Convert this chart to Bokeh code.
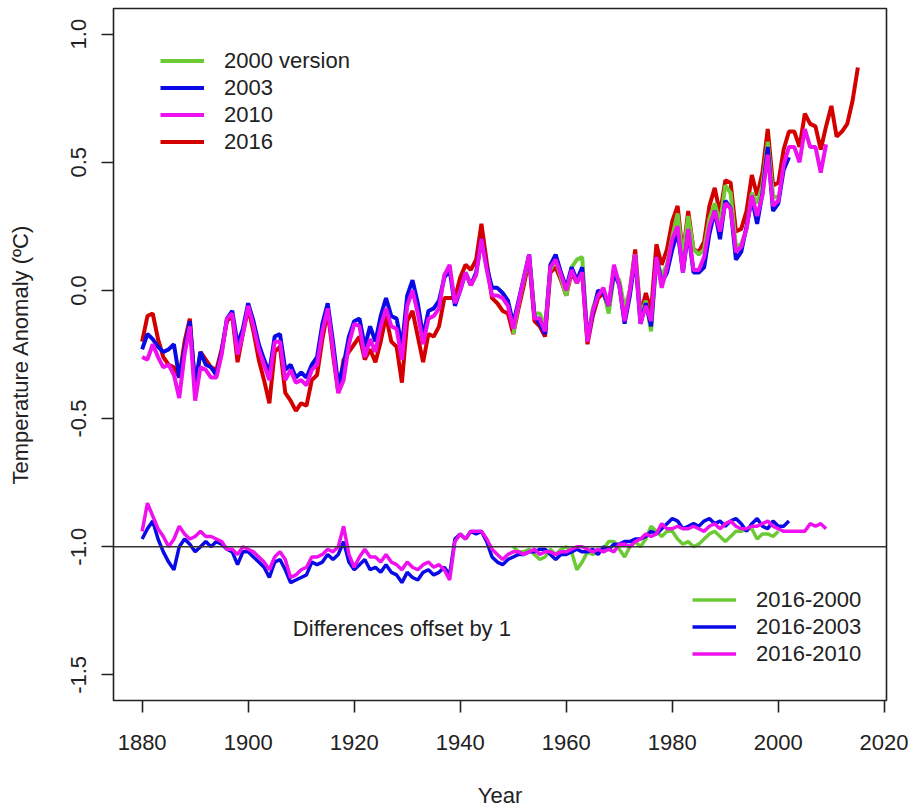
from bokeh.plotting import figure
from bokeh.models import Legend, LegendItem, Range1d, FixedTicker, Span, Label, PrintfTickFormatter
from bokeh.embed import file_html
from bokeh.resources import INLINE

# ---------------- data ----------------
years_2016 = list(range(1880, 2016))
anom_2016 = [
    -0.20, -0.10, -0.09, -0.19, -0.26, -0.29, -0.30, -0.34, -0.20, -0.11,
    -0.39, -0.24, -0.27, -0.30, -0.31, -0.23, -0.12, -0.10, -0.28, -0.17,
    -0.07, -0.16, -0.27, -0.35, -0.44, -0.24, -0.22, -0.40, -0.43, -0.47,
    -0.44, -0.45, -0.35, -0.33, -0.19, -0.08, -0.25, -0.40, -0.27, -0.24,
    -0.21, -0.18, -0.27, -0.23, -0.28, -0.20, -0.10, -0.20, -0.22, -0.36,
    -0.12, -0.08, -0.18, -0.28, -0.17, -0.18, -0.14, -0.03, -0.03, -0.03,
    0.05, 0.10, 0.08, 0.12, 0.26, 0.11, -0.03, -0.05, -0.08, -0.09,
    -0.17, -0.07, 0.02, 0.12, -0.12, -0.14, -0.18, 0.07, 0.09, 0.04,
    -0.02, 0.07, 0.03, 0.07, -0.21, -0.10, -0.03, -0.01, -0.07, 0.08,
    0.03, -0.11, 0.00, 0.16, -0.10, -0.01, -0.08, 0.18, 0.10, 0.16,
    0.27, 0.33, 0.14, 0.31, 0.16, 0.15, 0.19, 0.33, 0.40, 0.30,
    0.43, 0.42, 0.23, 0.24, 0.31, 0.45, 0.37, 0.46, 0.63, 0.41,
    0.42, 0.55, 0.62, 0.62, 0.56, 0.69, 0.65, 0.64, 0.55, 0.64,
    0.72, 0.60, 0.62, 0.65, 0.74, 0.87,
]

# differences "2016 version minus older version" (plotted offset by -1)
years_2010 = list(range(1880, 2010))
diff_2016_2010 = [
    0.06, 0.17, 0.12, 0.07, 0.04, 0.00, 0.03, 0.08, 0.05, 0.03,
    0.04, 0.06, 0.04, 0.04, 0.03, 0.02, -0.01, -0.01, -0.03, 0.00,
    -0.01, -0.02, -0.04, -0.06, -0.09, -0.04, -0.02, -0.05, -0.12, -0.11,
    -0.09, -0.08, -0.04, -0.04, -0.03, -0.01, -0.02, 0.00, 0.08, -0.03,
    -0.08, -0.04, -0.01, -0.04, -0.04, -0.06, -0.03, -0.06, -0.07, -0.09,
    -0.06, -0.08, -0.09, -0.07, -0.06, -0.08, -0.07, -0.09, -0.13, 0.02,
    0.05, 0.03, 0.06, 0.06, 0.06, 0.03, -0.01, -0.03, -0.05, -0.03,
    -0.02, -0.02, -0.03, -0.02, -0.01, -0.03, -0.02, -0.02, -0.03, -0.02,
    -0.02, -0.01, 0.00, 0.00, -0.01, -0.02, -0.01, -0.02, -0.01, -0.02,
    0.01, 0.01, 0.00, 0.02, 0.03, 0.05, 0.04, 0.05, 0.09, 0.07,
    0.07, 0.08, 0.07, 0.07, 0.08, 0.07, 0.06, 0.08, 0.09, 0.07,
    0.09, 0.10, 0.08, 0.07, 0.07, 0.08, 0.08, 0.09, 0.10, 0.08,
    0.07, 0.06, 0.06, 0.06, 0.06, 0.06, 0.09, 0.08, 0.09, 0.07,
]

years_2003 = list(range(1880, 2003))
diff_2016_2003 = [
    0.03, 0.07, 0.10, 0.03, -0.02, -0.06, -0.09, 0.00, 0.03, 0.01,
    -0.02, 0.00, 0.02, 0.00, 0.02, 0.01, -0.01, -0.02, -0.07, -0.02,
    -0.02, -0.04, -0.06, -0.08, -0.12, -0.06, -0.05, -0.09, -0.14, -0.13,
    -0.12, -0.11, -0.06, -0.07, -0.06, -0.03, -0.05, -0.03, 0.02, -0.06,
    -0.09, -0.07, -0.05, -0.09, -0.08, -0.10, -0.07, -0.10, -0.11, -0.14,
    -0.10, -0.12, -0.13, -0.10, -0.09, -0.11, -0.10, -0.08, -0.11, 0.03,
    0.05, 0.03, 0.06, 0.05, 0.06, 0.02, -0.04, -0.06, -0.07, -0.05,
    -0.04, -0.03, -0.03, -0.02, -0.02, -0.01, -0.01, -0.03, -0.05, -0.03,
    -0.03, -0.02, -0.01, -0.02, -0.02, -0.01, -0.03, 0.00, -0.01, 0.01,
    0.01, 0.02, 0.02, 0.03, 0.03, 0.04, 0.06, 0.05, 0.07, 0.09,
    0.11, 0.10, 0.07, 0.08, 0.09, 0.08, 0.10, 0.11, 0.09, 0.10,
    0.08, 0.10, 0.11, 0.09, 0.06, 0.09, 0.11, 0.08, 0.07, 0.10,
    0.08, 0.08, 0.10,
]

years_2000 = list(range(1950, 2001))
diff_2016_2000 = [
    0.00, -0.02, -0.02, -0.01, -0.03, -0.05, -0.04, -0.01, -0.03, -0.01,
    0.00, -0.02, -0.09, -0.06, -0.02, -0.03, -0.02, -0.01, 0.02, 0.02,
    -0.01, -0.04, 0.00, 0.02, 0.00, 0.03, 0.08, 0.06, 0.04, 0.06,
    0.06, 0.03, 0.01, 0.02, 0.00, 0.01, 0.03, 0.05, 0.06, 0.04,
    0.02, 0.04, 0.06, 0.06, 0.07, 0.07, 0.03, 0.05, 0.05, 0.04,
    0.06,
]

OFFSET = 1.0
x_ticks = [1880, 1900, 1920, 1940, 1960, 1980, 2000, 2020]
y_ticks = [-1.5, -1.0, -0.5, 0.0, 0.5, 1.0]

C_GREEN = "#6ccb35"
C_BLUE = "#0a0ae6"
C_MAGENTA = "#ee10ee"
C_RED = "#d40000"

FONT = "Liberation Sans"
FS = "22px"

lookup_2016 = dict(zip(years_2016, anom_2016))
anom_2010 = [lookup_2016[y] - d for y, d in zip(years_2010, diff_2016_2010)]
anom_2003 = [lookup_2016[y] - d for y, d in zip(years_2003, diff_2016_2003)]
anom_2000 = [lookup_2016[y] - d for y, d in zip(years_2000, diff_2016_2000)]

# ---------------- figure ----------------
p = figure(
    frame_width=773, frame_height=692,
    min_border_left=113, min_border_right=22, min_border_top=8, min_border_bottom=107,
    x_range=Range1d(1874.6, 2020.4), y_range=Range1d(-1.6, 1.1),
    output_backend="svg", toolbar_location=None,
    background_fill_color="white", border_fill_color="white",
)
p.outline_line_color = "#222222"
p.outline_line_width = 1.6
p.xgrid.visible = False
p.ygrid.visible = False

for ax in (p.xaxis[0], p.yaxis[0]):
    ax.axis_line_color = None
    ax.major_tick_line_color = "#222222"
    ax.major_tick_line_width = 1.6
    ax.major_tick_in = 0
    ax.major_tick_out = 12
    ax.minor_tick_line_color = None
    ax.major_label_text_font = FONT
    ax.major_label_text_font_size = FS
    ax.major_label_text_color = "#222222"
    ax.axis_label_text_font = FONT
    ax.axis_label_text_font_size = FS
    ax.axis_label_text_font_style = "normal"
    ax.axis_label_text_color = "#222222"

p.xaxis.ticker = FixedTicker(ticks=x_ticks)
p.yaxis.ticker = FixedTicker(ticks=y_ticks)
p.yaxis.formatter = PrintfTickFormatter(format="%.1f")
p.yaxis.major_label_orientation = "vertical"
p.xaxis.axis_label = "Year"
p.yaxis.axis_label = "Temperature Anomaly (\u00baC)"
p.xaxis.major_label_standoff = 22
p.xaxis.axis_label_standoff = 30
p.yaxis.major_label_standoff = 15
p.yaxis.axis_label_standoff = 36

# reference line for the offset differences
p.add_layout(Span(location=-OFFSET, dimension="width", line_color="#333333", line_width=1.5))

LW = 4
r16 = p.line(years_2016, anom_2016, line_color=C_RED, line_width=LW)
r00 = p.line(years_2000, anom_2000, line_color=C_GREEN, line_width=LW)
r03 = p.line(years_2003, anom_2003, line_color=C_BLUE, line_width=LW)
r10 = p.line(years_2010, anom_2010, line_color=C_MAGENTA, line_width=LW)

DW = 3.5
d00 = p.line(years_2000, [d - OFFSET for d in diff_2016_2000], line_color=C_GREEN, line_width=DW)
d03 = p.line(years_2003, [d - OFFSET for d in diff_2016_2003], line_color=C_BLUE, line_width=DW)
d10 = p.line(years_2010, [d - OFFSET for d in diff_2016_2010], line_color=C_MAGENTA, line_width=DW)

p.add_layout(Label(x=1929, y=-1.32, text="Differences offset by 1", text_align="center",
                   text_baseline="middle", text_font=FONT, text_font_size=FS,
                   text_color="#222222"))

def make_legend(items, loc):
    lg = Legend(items=items, location=loc, orientation="vertical",
                border_line_color=None, background_fill_alpha=0.0,
                padding=0, margin=0, spacing=0,
                glyph_width=44, glyph_height=27, label_height=27,
                label_standoff=20,
                label_text_font=FONT, label_text_font_size=FS,
                label_text_color="#222222")
    return lg

leg1 = make_legend([
    LegendItem(label="2000 version", renderers=[r00]),
    LegendItem(label="2003", renderers=[r03]),
    LegendItem(label="2010", renderers=[r10]),
    LegendItem(label="2016", renderers=[r16]),
], (47, 545))
leg2 = make_legend([
    LegendItem(label="2016-2000", renderers=[d00]),
    LegendItem(label="2016-2003", renderers=[d03]),
    LegendItem(label="2016-2010", renderers=[d10]),
], (579, 33))
p.add_layout(leg1)
p.add_layout(leg2)

open("out.html", "w").write(file_html(p, INLINE))
